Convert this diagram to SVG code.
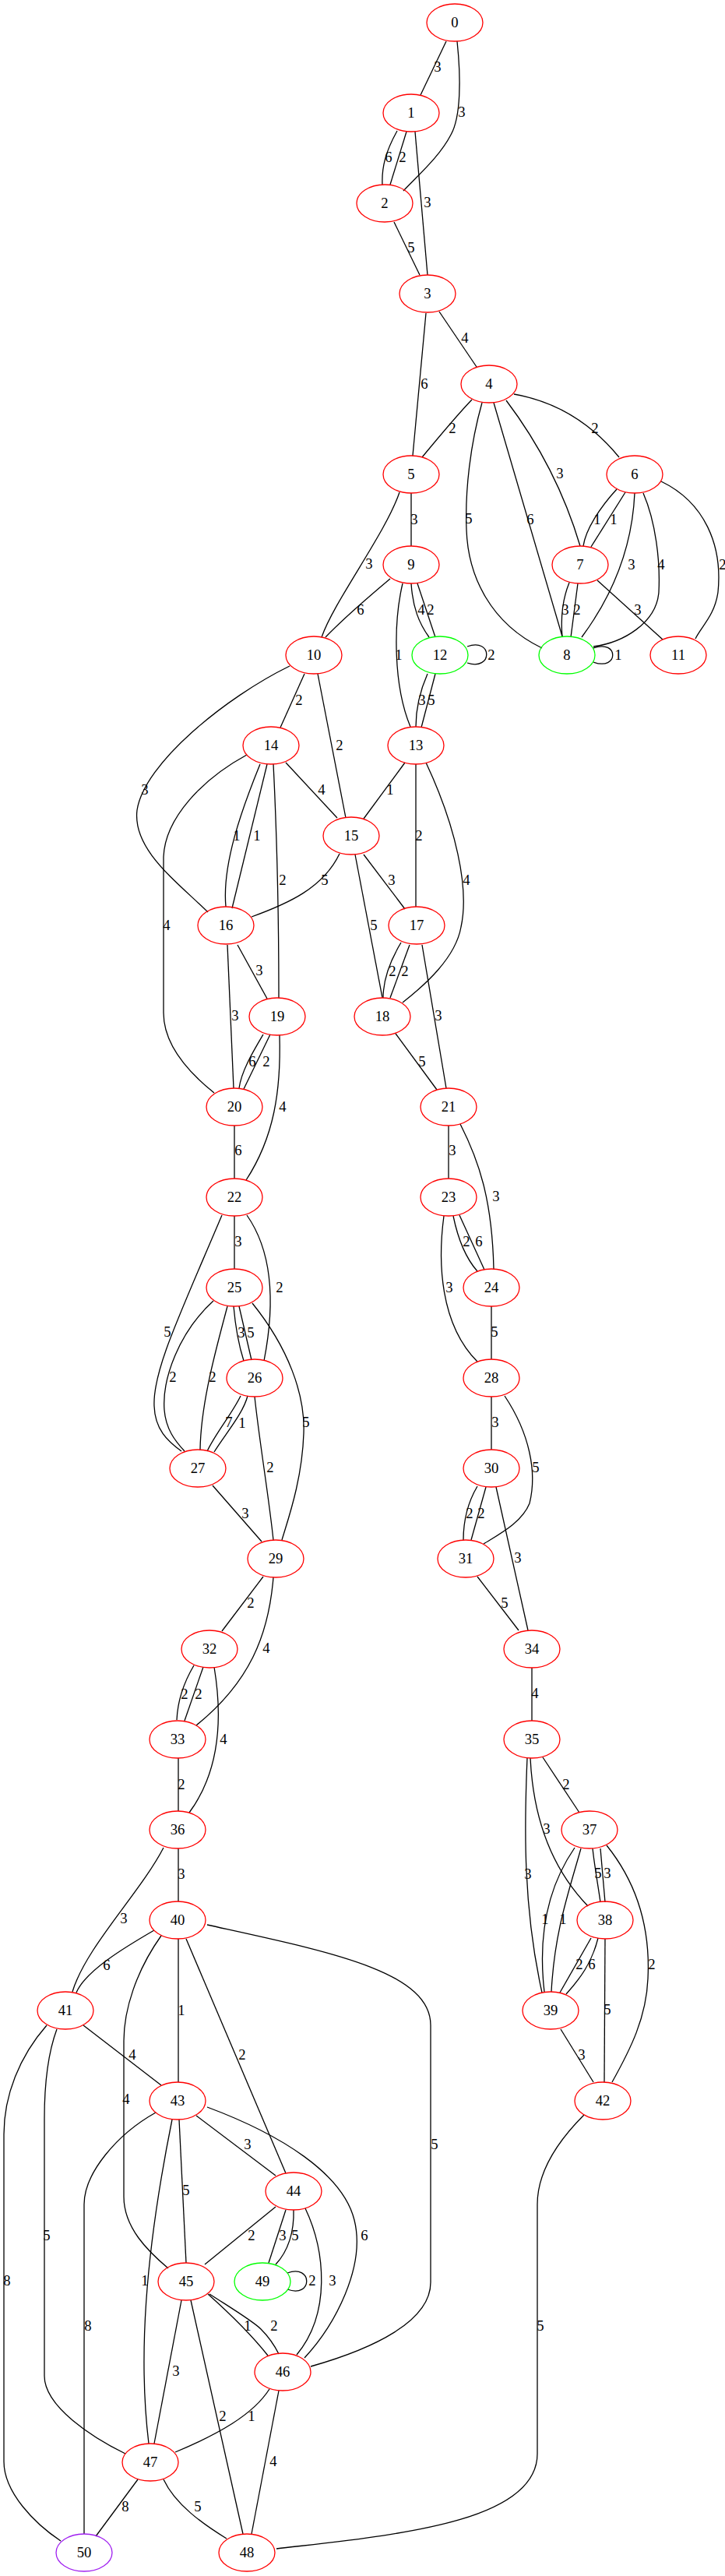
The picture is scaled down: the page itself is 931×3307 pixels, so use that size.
<svg xmlns="http://www.w3.org/2000/svg" width="931" height="3307" viewBox="0 0 931 3307">
<style>
.n ellipse{fill:none;stroke:#ff0000;stroke-width:1.3}
.g ellipse{stroke:#00ff00}
.p ellipse{stroke:#a020f0}
text{font-family:"Liberation Serif","Times New Roman",serif;font-size:18.67px;text-anchor:middle;fill:#000}
#edges path{fill:none;stroke:#000;stroke-width:1.3}
</style>
<rect width="931" height="3307" fill="#fff"/>
<g id="edges">
<path d="M573,53 L540,122"/><text x="562" y="92">3</text>
<path d="M587,53 C592,100 592,150 579,173 C565,200 540,222 518,245"/><text x="593" y="150">3</text>
<path d="M510,168 C495,195 490,215 491,237"/><text x="499" y="208">6</text>
<path d="M522,169 L501,237"/><text x="517" y="208">2</text>
<path d="M533,169 L549,353"/><text x="549" y="266">3</text>
<path d="M506,285 L539,353"/><text x="528" y="324">5</text>
<path d="M564,400 L612,471"/><text x="597" y="440">4</text>
<path d="M547,402 L530,585"/><text x="545" y="499">6</text>
<path d="M606,513 Q585,535 542,587"/><text x="581" y="556">2</text>
<path d="M660,506 Q740,520 795,587"/><text x="764" y="556">2</text>
<path d="M619,517 C604,570 597,630 599,680 C601,740 630,800 696,832"/><text x="602" y="672">5</text>
<path d="M634,517 L722,817"/><text x="681" y="673">6</text>
<path d="M650,514 Q715,600 745,701"/><text x="719" y="614">3</text>
<path d="M792,628 C770,652 752,680 749,701"/><text x="767" y="673">1</text>
<path d="M803,632 L759,702"/><text x="788" y="673">1</text>
<path d="M815,633 C812,700 790,760 747,818"/><text x="811" y="731">3</text>
<path d="M826,633 C842,670 848,720 846,760 C843,800 800,825 762,830"/><text x="849" y="731">4</text>
<path d="M849,618 C905,645 928,700 922,760 C918,790 900,805 893,820"/><text x="928" y="731">2</text>
<path d="M731,748 C722,770 720,795 722,818"/><text x="726" y="789">3</text>
<path d="M742,749 L733,818"/><text x="741" y="789">2</text>
<path d="M767,745 L851,821"/><text x="819" y="789">3</text>
<path d="M762,832 C795,820 795,862 762,850"/><text x="794" y="847">1</text>
<path d="M600,830 C633,818 633,862 600,851"/><text x="631" y="847">2</text>
<path d="M528,633 L528,701"/><text x="532" y="673">3</text>
<path d="M513,632 C495,685 430,770 413,818"/><text x="474" y="730">3</text>
<path d="M501,743 Q445,790 418,818"/><text x="463" y="789">6</text>
<path d="M517,749 C505,800 505,880 527,933"/><text x="512" y="847">1</text>
<path d="M528,749 C530,780 538,800 551,818"/><text x="541" y="789">4</text>
<path d="M536,749 L559,818"/><text x="553" y="789">2</text>
<path d="M391,865 L360,934"/><text x="384" y="905">2</text>
<path d="M408,865 L444,1050"/><text x="436" y="963">2</text>
<path d="M372,855 C290,895 185,980 176,1040 C170,1090 225,1130 267,1171"/><text x="186" y="1020">3</text>
<path d="M549,865 C538,890 534,910 534,933"/><text x="542" y="905">3</text>
<path d="M559,865 L541,934"/><text x="554" y="905">5</text>
<path d="M367,979 L433,1050"/><text x="413" y="1020">4</text>
<path d="M520,979 L467,1051"/><text x="501" y="1020">1</text>
<path d="M534,981 L534,1164"/><text x="538" y="1079">2</text>
<path d="M547,979 C585,1060 603,1140 592,1190 C585,1230 545,1265 517,1287"/><text x="599" y="1136">4</text>
<path d="M334,981 C310,1040 285,1110 290,1164"/><text x="304" y="1079">1</text>
<path d="M343,981 L298,1166"/><text x="330" y="1079">1</text>
<path d="M351,981 C356,1080 358,1200 358,1281"/><text x="363" y="1136">2</text>
<path d="M317,969 C260,1000 212,1050 210,1100 L210,1300 C210,1340 240,1375 275,1403"/><text x="214" y="1194">4</text>
<path d="M436,1096 C415,1140 370,1160 323,1177"/><text x="417" y="1136">5</text>
<path d="M467,1097 L520,1167"/><text x="503" y="1136">3</text>
<path d="M456,1097 L491,1281"/><text x="480" y="1194">5</text>
<path d="M515,1210 C500,1235 492,1260 492,1281"/><text x="504" y="1253">2</text>
<path d="M526,1213 L501,1281"/><text x="520" y="1253">2</text>
<path d="M542,1213 L573,1397"/><text x="563" y="1310">3</text>
<path d="M305,1213 L343,1282"/><text x="333" y="1252">3</text>
<path d="M292,1213 L300,1397"/><text x="302" y="1310">3</text>
<path d="M338,1328 C325,1350 310,1375 307,1397"/><text x="324" y="1369">6</text>
<path d="M347,1328 L313,1398"/><text x="342" y="1369">2</text>
<path d="M359,1329 C361,1400 352,1460 316,1515"/><text x="363" y="1427">4</text>
<path d="M508,1327 L561,1399"/><text x="542" y="1369">5</text>
<path d="M301,1445 L301,1513"/><text x="306" y="1483">6</text>
<path d="M576,1445 L576,1513"/><text x="581" y="1483">3</text>
<path d="M591,1443 C615,1490 632,1540 634,1629"/><text x="637" y="1542">3</text>
<path d="M301,1561 L301,1629"/><text x="306" y="1600">3</text>
<path d="M317,1560 C345,1600 356,1660 339,1747"/><text x="359" y="1659">2</text>
<path d="M285,1560 C230,1690 196,1760 198,1805 C199,1835 215,1850 233,1863"/><text x="215" y="1716">5</text>
<path d="M274,1670 C230,1710 208,1770 211,1810 C213,1835 225,1850 237,1863"/><text x="222" y="1774">2</text>
<path d="M292,1677 C278,1730 258,1800 257,1861"/><text x="273" y="1774">2</text>
<path d="M300,1677 C302,1700 306,1725 313,1747"/><text x="310" y="1717">3</text>
<path d="M307,1677 L323,1746"/><text x="322" y="1717">5</text>
<path d="M324,1673 C370,1730 392,1790 390,1840 C388,1900 370,1950 362,1977"/><text x="393" y="1832">5</text>
<path d="M309,1792 C298,1815 278,1838 266,1863"/><text x="294" y="1832">7</text>
<path d="M318,1792 C312,1815 290,1840 275,1864"/><text x="311" y="1833">1</text>
<path d="M327,1793 C333,1850 345,1920 351,1977"/><text x="347" y="1890">2</text>
<path d="M582,1561 C588,1590 598,1615 613,1632"/><text x="599" y="1600">2</text>
<path d="M590,1560 L622,1630"/><text x="615" y="1600">6</text>
<path d="M570,1561 C562,1620 565,1700 613,1748"/><text x="577" y="1659">3</text>
<path d="M631,1677 L631,1745"/><text x="635" y="1716">5</text>
<path d="M631,1793 L631,1861"/><text x="636" y="1832">3</text>
<path d="M648,1792 C680,1840 690,1890 680,1930 C670,1955 640,1970 621,1982"/><text x="688" y="1890">5</text>
<path d="M613,1908 C600,1930 595,1955 595,1977"/><text x="603" y="1949">2</text>
<path d="M624,1909 L605,1977"/><text x="618" y="1949">2</text>
<path d="M637,1909 L678,2093"/><text x="665" y="2006">3</text>
<path d="M613,2024 L666,2093"/><text x="648" y="2064">5</text>
<path d="M273,1907 L336,1979"/><text x="315" y="1949">3</text>
<path d="M338,2024 L285,2094"/><text x="322" y="2064">2</text>
<path d="M351,2025 C345,2100 320,2160 252,2215"/><text x="342" y="2122">4</text>
<path d="M249,2138 C236,2160 228,2185 227,2208"/><text x="237" y="2181">2</text>
<path d="M261,2140 L237,2209"/><text x="255" y="2181">2</text>
<path d="M275,2140 C285,2200 285,2270 243,2327"/><text x="287" y="2239">4</text>
<path d="M229,2257 L229,2325"/><text x="233" y="2297">2</text>
<path d="M683,2141 L683,2209"/><text x="687" y="2180">4</text>
<path d="M697,2256 L744,2327"/><text x="727" y="2297">2</text>
<path d="M681,2257 C684,2320 700,2390 755,2447"/><text x="702" y="2354">3</text>
<path d="M677,2257 C673,2350 672,2450 696,2558"/><text x="678" y="2412">3</text>
<path d="M229,2373 L229,2441"/><text x="233" y="2412">3</text>
<path d="M210,2372 C180,2430 110,2500 93,2557"/><text x="159" y="2469">3</text>
<path d="M738,2372 C705,2420 690,2480 699,2557"/><text x="700" y="2470">1</text>
<path d="M746,2373 C730,2430 712,2480 708,2557"/><text x="723" y="2470">1</text>
<path d="M761,2373 C764,2400 768,2420 771,2442"/><text x="768" y="2411">5</text>
<path d="M771,2373 L777,2442"/><text x="780" y="2411">3</text>
<path d="M779,2369 C820,2420 835,2480 832,2540 C830,2590 810,2630 786,2673"/><text x="837" y="2528">2</text>
<path d="M759,2488 L719,2558"/><text x="744" y="2528">2</text>
<path d="M768,2488 C760,2520 745,2540 727,2560"/><text x="760" y="2528">6</text>
<path d="M777,2489 L776,2673"/><text x="780" y="2586">5</text>
<path d="M720,2605 L762,2673"/><text x="747" y="2644">3</text>
<path d="M198,2478 C160,2500 110,2530 98,2558"/><text x="137" y="2529">6</text>
<path d="M229,2489 L229,2673"/><text x="233" y="2587">1</text>
<path d="M239,2489 L367,2790"/><text x="311" y="2644">2</text>
<path d="M207,2485 C175,2530 159,2580 159,2620 L159,2820 C159,2860 190,2890 216,2912"/><text x="162" y="2701">4</text>
<path d="M266,2471 C420,2505 553,2530 553,2600 L553,2930 C553,2980 480,3015 399,3038"/><text x="558" y="2759">5</text>
<path d="M107,2600 L207,2677"/><text x="170" y="2644">4</text>
<path d="M73,2605 C60,2640 57,2680 57,2720 L57,3050 C57,3090 120,3130 161,3150"/><text x="60" y="2876">5</text>
<path d="M60,2600 C25,2640 5,2690 5,2740 L5,3160 C5,3200 45,3240 78,3262"/><text x="9" y="2934">8</text>
<path d="M252,2716 L354,2793"/><text x="318" y="2759">3</text>
<path d="M230,2721 L239,2905"/><text x="239" y="2818">5</text>
<path d="M266,2705 C360,2740 440,2790 455,2850 C470,2910 430,2985 391,3027"/><text x="468" y="2876">6</text>
<path d="M221,2721 C185,2900 178,3030 191,3137"/><text x="186" y="2934">1</text>
<path d="M200,2712 C150,2740 108,2790 108,2830 L108,3253"/><text x="113" y="2992">8</text>
<path d="M354,2833 L263,2907"/><text x="323" y="2876">2</text>
<path d="M367,2837 L345,2905"/><text x="363" y="2876">3</text>
<path d="M377,2837 C378,2865 370,2890 354,2907"/><text x="379" y="2876">5</text>
<path d="M392,2835 C418,2890 425,2970 381,3023"/><text x="427" y="2934">3</text>
<path d="M267,2945 C295,2970 325,3000 344,3024"/><text x="318" y="2992">1</text>
<path d="M269,2945 C300,2965 325,2980 335,2990 C345,3000 352,3010 358,3022"/><text x="352" y="2992">2</text>
<path d="M233,2953 L198,3137"/><text x="226" y="3050">3</text>
<path d="M245,2953 L312,3253"/><text x="286" y="3108">2</text>
<path d="M369,2918 C402,2906 402,2951 369,2939"/><text x="401" y="2934">2</text>
<path d="M346,3067 C325,3100 280,3125 225,3148"/><text x="323" y="3108">1</text>
<path d="M358,3069 L323,3253"/><text x="351" y="3166">4</text>
<path d="M177,3183 L123,3256"/><text x="161" y="3224">8</text>
<path d="M210,3183 C225,3215 260,3240 291,3259"/><text x="254" y="3224">5</text>
<path d="M750,2715 C715,2750 690,2790 690,2830 L690,3150 C690,3240 500,3255 355,3272"/><text x="694" y="2992">5</text>
</g>
<g id="node0" class="n"><ellipse cx="584" cy="29" rx="36" ry="24"/><text x="584" y="35">0</text></g>
<g id="node1" class="n"><ellipse cx="528" cy="145" rx="36" ry="24"/><text x="528" y="151">1</text></g>
<g id="node2" class="n"><ellipse cx="494" cy="261" rx="36" ry="24"/><text x="494" y="267">2</text></g>
<g id="node3" class="n"><ellipse cx="549" cy="377" rx="36" ry="24"/><text x="549" y="383">3</text></g>
<g id="node4" class="n"><ellipse cx="628" cy="493" rx="36" ry="24"/><text x="628" y="499">4</text></g>
<g id="node5" class="n"><ellipse cx="528" cy="609" rx="36" ry="24"/><text x="528" y="615">5</text></g>
<g id="node6" class="n"><ellipse cx="815" cy="609" rx="36" ry="24"/><text x="815" y="615">6</text></g>
<g id="node7" class="n"><ellipse cx="745" cy="725" rx="36" ry="24"/><text x="745" y="731">7</text></g>
<g id="node8" class="n g"><ellipse cx="728" cy="841" rx="36" ry="24"/><text x="728" y="847">8</text></g>
<g id="node9" class="n"><ellipse cx="528" cy="725" rx="36" ry="24"/><text x="528" y="731">9</text></g>
<g id="node10" class="n"><ellipse cx="403" cy="841" rx="36" ry="24"/><text x="403" y="847">10</text></g>
<g id="node11" class="n"><ellipse cx="871" cy="841" rx="36" ry="24"/><text x="871" y="847">11</text></g>
<g id="node12" class="n g"><ellipse cx="565" cy="841" rx="36" ry="24"/><text x="565" y="847">12</text></g>
<g id="node13" class="n"><ellipse cx="534" cy="957" rx="36" ry="24"/><text x="534" y="963">13</text></g>
<g id="node14" class="n"><ellipse cx="348" cy="957" rx="36" ry="24"/><text x="348" y="963">14</text></g>
<g id="node15" class="n"><ellipse cx="451" cy="1073" rx="36" ry="24"/><text x="451" y="1079">15</text></g>
<g id="node16" class="n"><ellipse cx="290" cy="1188" rx="36" ry="24"/><text x="290" y="1194">16</text></g>
<g id="node17" class="n"><ellipse cx="535" cy="1188" rx="36" ry="24"/><text x="535" y="1194">17</text></g>
<g id="node18" class="n"><ellipse cx="491" cy="1305" rx="36" ry="24"/><text x="491" y="1311">18</text></g>
<g id="node19" class="n"><ellipse cx="356" cy="1305" rx="36" ry="24"/><text x="356" y="1311">19</text></g>
<g id="node20" class="n"><ellipse cx="301" cy="1421" rx="36" ry="24"/><text x="301" y="1427">20</text></g>
<g id="node21" class="n"><ellipse cx="576" cy="1421" rx="36" ry="24"/><text x="576" y="1427">21</text></g>
<g id="node22" class="n"><ellipse cx="301" cy="1537" rx="36" ry="24"/><text x="301" y="1543">22</text></g>
<g id="node23" class="n"><ellipse cx="576" cy="1537" rx="36" ry="24"/><text x="576" y="1543">23</text></g>
<g id="node24" class="n"><ellipse cx="631" cy="1653" rx="36" ry="24"/><text x="631" y="1659">24</text></g>
<g id="node25" class="n"><ellipse cx="301" cy="1653" rx="36" ry="24"/><text x="301" y="1659">25</text></g>
<g id="node26" class="n"><ellipse cx="327" cy="1769" rx="36" ry="24"/><text x="327" y="1775">26</text></g>
<g id="node27" class="n"><ellipse cx="254" cy="1885" rx="36" ry="24"/><text x="254" y="1891">27</text></g>
<g id="node28" class="n"><ellipse cx="631" cy="1769" rx="36" ry="24"/><text x="631" y="1775">28</text></g>
<g id="node29" class="n"><ellipse cx="354" cy="2001" rx="36" ry="24"/><text x="354" y="2007">29</text></g>
<g id="node30" class="n"><ellipse cx="631" cy="1885" rx="36" ry="24"/><text x="631" y="1891">30</text></g>
<g id="node31" class="n"><ellipse cx="598" cy="2001" rx="36" ry="24"/><text x="598" y="2007">31</text></g>
<g id="node32" class="n"><ellipse cx="269" cy="2117" rx="36" ry="24"/><text x="269" y="2123">32</text></g>
<g id="node33" class="n"><ellipse cx="228" cy="2233" rx="36" ry="24"/><text x="228" y="2239">33</text></g>
<g id="node34" class="n"><ellipse cx="683" cy="2117" rx="36" ry="24"/><text x="683" y="2123">34</text></g>
<g id="node35" class="n"><ellipse cx="683" cy="2233" rx="36" ry="24"/><text x="683" y="2239">35</text></g>
<g id="node36" class="n"><ellipse cx="228" cy="2349" rx="36" ry="24"/><text x="228" y="2355">36</text></g>
<g id="node37" class="n"><ellipse cx="757" cy="2349" rx="36" ry="24"/><text x="757" y="2355">37</text></g>
<g id="node38" class="n"><ellipse cx="777" cy="2465" rx="36" ry="24"/><text x="777" y="2471">38</text></g>
<g id="node39" class="n"><ellipse cx="707" cy="2581" rx="36" ry="24"/><text x="707" y="2587">39</text></g>
<g id="node40" class="n"><ellipse cx="228" cy="2465" rx="36" ry="24"/><text x="228" y="2471">40</text></g>
<g id="node41" class="n"><ellipse cx="84" cy="2581" rx="36" ry="24"/><text x="84" y="2587">41</text></g>
<g id="node42" class="n"><ellipse cx="774" cy="2697" rx="36" ry="24"/><text x="774" y="2703">42</text></g>
<g id="node43" class="n"><ellipse cx="228" cy="2697" rx="36" ry="24"/><text x="228" y="2703">43</text></g>
<g id="node44" class="n"><ellipse cx="377" cy="2813" rx="36" ry="24"/><text x="377" y="2819">44</text></g>
<g id="node45" class="n"><ellipse cx="239" cy="2929" rx="36" ry="24"/><text x="239" y="2935">45</text></g>
<g id="node46" class="n"><ellipse cx="363" cy="3045" rx="36" ry="24"/><text x="363" y="3051">46</text></g>
<g id="node47" class="n"><ellipse cx="193" cy="3161" rx="36" ry="24"/><text x="193" y="3167">47</text></g>
<g id="node48" class="n"><ellipse cx="317" cy="3277" rx="36" ry="24"/><text x="317" y="3283">48</text></g>
<g id="node49" class="n g"><ellipse cx="337" cy="2929" rx="36" ry="24"/><text x="337" y="2935">49</text></g>
<g id="node50" class="n p"><ellipse cx="108" cy="3277" rx="36" ry="24"/><text x="108" y="3283">50</text></g>
</svg>
